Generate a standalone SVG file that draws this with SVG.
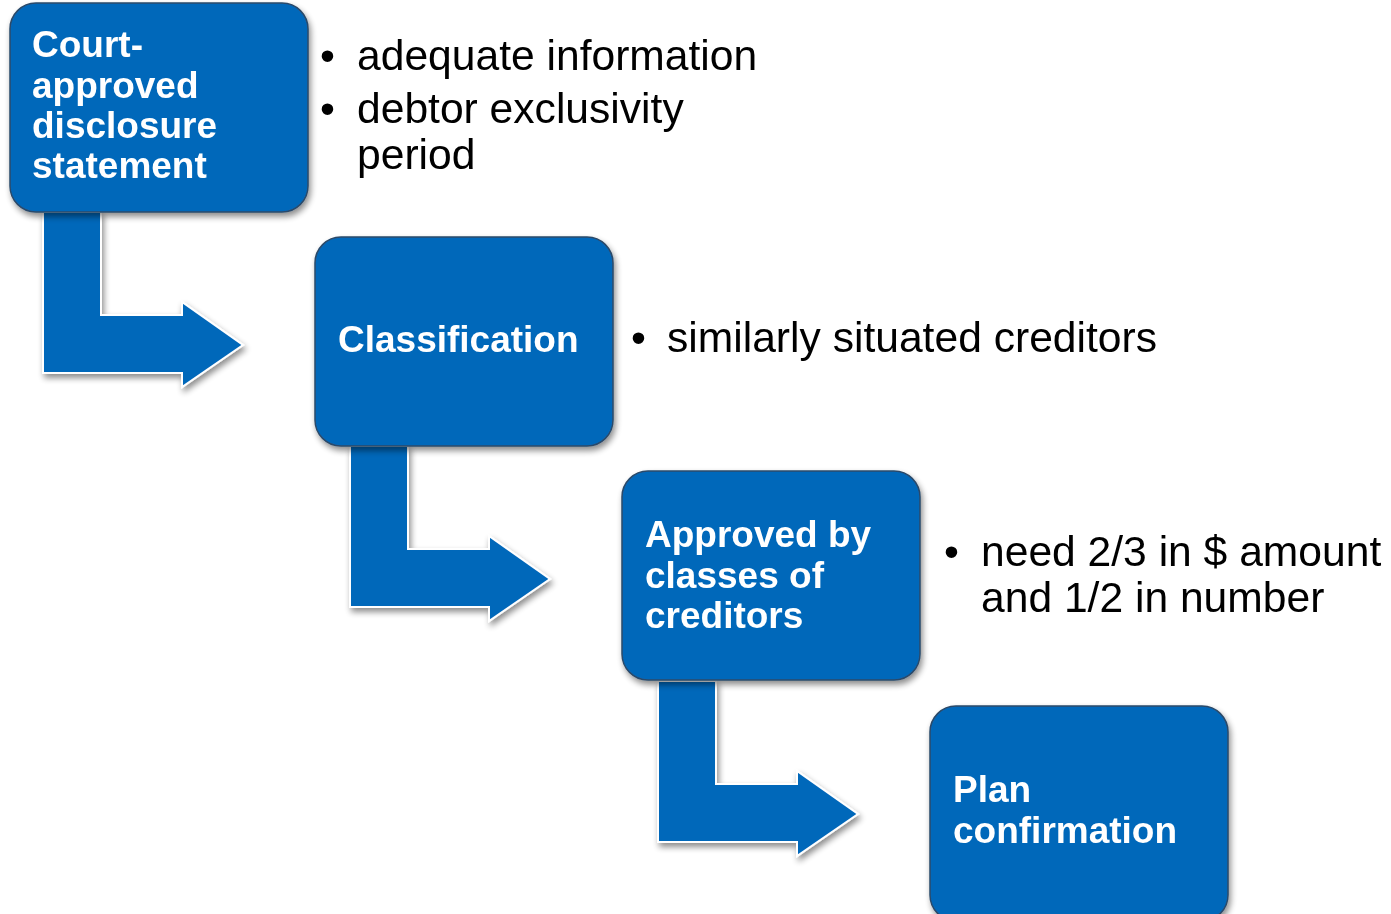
<svg xmlns="http://www.w3.org/2000/svg" width="1391" height="914" viewBox="0 0 1391 914">
  <defs>
    <filter id="shadow" x="-10%" y="-10%" width="125%" height="125%">
      <feGaussianBlur in="SourceAlpha" stdDeviation="3"/>
      <feOffset dx="2" dy="4" result="b"/>
      <feComponentTransfer><feFuncA type="linear" slope="0.45"/></feComponentTransfer>
      <feMerge><feMergeNode/><feMergeNode in="SourceGraphic"/></feMerge>
    </filter>
    <path id="bend" d="M43,212 L101,212 L101,315 L182,315 L182,302 L243,345 L182,387 L182,373 L43,373 Z"/>
  </defs>
  <style>
    .box { fill: #0568BA; stroke: #2A4A6A; stroke-width: 1.5; }
    .arrow { fill: #0568BA; stroke: #FFFFFF; stroke-width: 2; }
    .title { font-family: "Liberation Sans", Arial, sans-serif; font-weight: bold; font-size: 37px; fill: #FFFFFF; }
    .note { font-family: "Liberation Sans", Arial, sans-serif; font-size: 42.6px; fill: #000000; }
  </style>

  <rect width="1391" height="914" fill="#FFFFFF"/>

  <!-- bent arrows between steps -->
  <g id="connectors" filter="url(#shadow)">
    <use href="#bend" class="arrow"/>
    <use href="#bend" class="arrow" transform="translate(307,234)"/>
    <use href="#bend" class="arrow" transform="translate(615,469)"/>
  </g>

  <g id="step1">
    <rect class="box" x="10" y="3" width="298" height="209" rx="26" filter="url(#shadow)"/>
    <text class="title" x="32" y="57">Court-</text>
    <text class="title" x="32" y="98">approved</text>
    <text class="title" x="32" y="138">disclosure</text>
    <text class="title" x="32" y="178">statement</text>
  </g>

  <g id="step2">
    <rect class="box" x="315" y="237" width="298" height="209" rx="26" filter="url(#shadow)"/>
    <text class="title" x="338" y="352">Classification</text>
  </g>

  <g id="step3">
    <rect class="box" x="622" y="471" width="298" height="209" rx="26" filter="url(#shadow)"/>
    <text class="title" x="645" y="547">Approved by</text>
    <text class="title" x="645" y="588">classes of</text>
    <text class="title" x="645" y="628">creditors</text>
  </g>

  <g id="step4">
    <rect class="box" x="930" y="706" width="298" height="215" rx="26" filter="url(#shadow)"/>
    <text class="title" x="953" y="802">Plan</text>
    <text class="title" x="953" y="843">confirmation</text>
  </g>

  <g id="notes1">
    <text class="note" x="320" y="70">•</text>
    <text class="note" x="357" y="70">adequate information</text>
    <text class="note" x="320" y="123">•</text>
    <text class="note" x="357" y="123">debtor exclusivity</text>
    <text class="note" x="357" y="169">period</text>
  </g>

  <g id="notes2">
    <text class="note" x="631" y="352">•</text>
    <text class="note" x="667" y="352">similarly situated creditors</text>
  </g>

  <g id="notes3">
    <text class="note" x="944" y="566">•</text>
    <text class="note" x="981" y="566">need 2/3 in $ amount</text>
    <text class="note" x="981" y="612">and 1/2 in number</text>
  </g>
</svg>
